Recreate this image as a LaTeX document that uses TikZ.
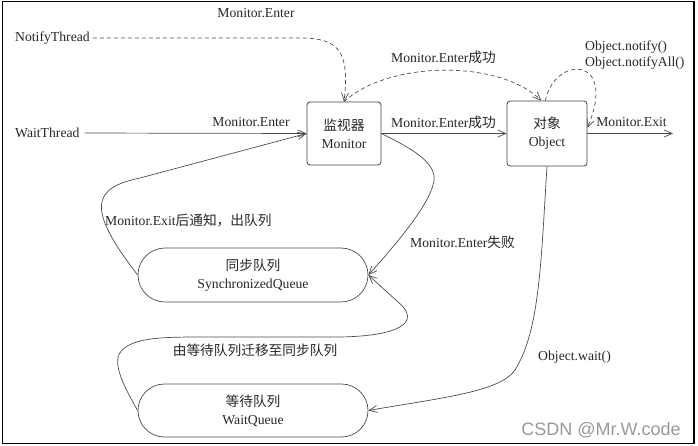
\documentclass[tikz,border=0pt]{standalone}
\usepackage{fontspec}
\setmainfont{Liberation Serif}
\newfontfamily\cjk{Noto Sans CJK SC}
\newfontfamily\wmfont{Liberation Sans}
\usetikzlibrary{arrows.meta,shapes.misc}
\newcommand\zh[1]{{\cjk #1}}
\begin{document}
\begin{tikzpicture}[x=1pt,y=-1pt,
  every node/.style={font=\fontsize{13.7}{18}\selectfont, text=black!85},
  lbl/.style={inner sep=0pt},
  box/.style={draw=black!75, line width=0.8pt, rounded corners=3pt, align=center, inner sep=0pt},
  queue/.style={draw=black!70, line width=0.7pt, rounded rectangle, minimum width=230pt, minimum height=54pt, align=center, inner sep=0pt},
  conn/.style={draw=black!70, line width=0.7pt, -{Straight Barb[length=8pt,width=7pt]}},
  dconn/.style={conn, dash pattern=on 4pt off 3pt}
]
\useasboundingbox (0,0) rectangle (698,446);
\draw[black, line width=1.5pt] (2.5,1.5) rectangle (694,443.5);

% main nodes
\node[box, minimum width=74pt, minimum height=63pt] (monitor) at (344,133.5) {\zh{监视器}\\Monitor};
\node[box, minimum width=80pt, minimum height=65pt] (object) at (547,133.5) {\zh{对象}\\Object};
\node[queue] (sq) at (253,275) {\zh{同步队列}\\SynchronizedQueue};
\node[queue, minimum height=53pt] (wq) at (253,410.5) {\zh{等待队列}\\WaitQueue};

% thread labels
\node[lbl, anchor=west] (notify) at (15,38) {NotifyThread};
\node[lbl, anchor=west] (wait) at (15,133) {WaitThread};

% edge labels
\node[lbl] (l1) at (256,13) {Monitor.Enter};
\node[lbl] (l2) at (251,122) {Monitor.Enter};
\node[lbl] (l3) at (443.5,57) {Monitor.Enter\zh{成功}};
\node[lbl] (l4) at (443.5,122) {Monitor.Enter\zh{成功}};
\node[lbl, anchor=west] (l5) at (585,47) {Object.notify()};
\node[lbl, anchor=west] (l6) at (585,63) {Object.notifyAll()};
\node[lbl] (l7) at (631.5,122) {Monitor.Exit};
\node[lbl, anchor=west] (l8) at (105,220) {Monitor.Exit\zh{后通知，出队列}};
\node[lbl, anchor=west] (l9) at (410,242) {Monitor.Enter\zh{失败}};
\node[lbl] (l10) at (255,350) {\zh{由等待队列迁移至同步队列}};
\node[lbl, anchor=west] (l11) at (538,357) {Object.wait()};
\node[lbl, font=\wmfont\fontsize{18}{20}\selectfont, text=black!40] (wm) at (601,430) {CSDN @Mr.W.code};

\coordinate (exitend) at (673,133.5);

% connectors
\draw[dconn, shorten <=3pt] (notify.east) -- (300,38) .. controls (338,38) and (350,50) .. (monitor.north);
\draw[conn, shorten <=5pt] (wait.east) -- (monitor.west);
\draw[dconn] (monitor.north) .. controls (390,60) and (500,60) .. (object.100);
\draw[dconn] (object.93) .. controls (555,55) and (618,55) .. (object.8);
\draw[conn] (monitor.east) -- (object.west);
\draw[conn] (object.east) -- (exitend);
\draw[conn] (monitor.east) .. controls (415,150) and (440,165) .. (433,185) .. controls (428,205) and (400,240) .. (sq.east);
\draw[conn] (sq.west) .. controls (86,208) and (92,188) .. (140,178) -- (monitor.west);
\draw[conn] (wq.west) .. controls (120,380) and (112,360) .. (122,350) .. controls (135,338) and (160,337) .. (200,337) -- (340,337) .. controls (400,336) and (422,322) .. (398,302) -- (sq.east);
\draw[conn] (object.south) .. controls (541,260) and (540,330) .. (515,370) .. controls (500,392) and (440,398) .. (wq.east);
\end{tikzpicture}
\end{document}
